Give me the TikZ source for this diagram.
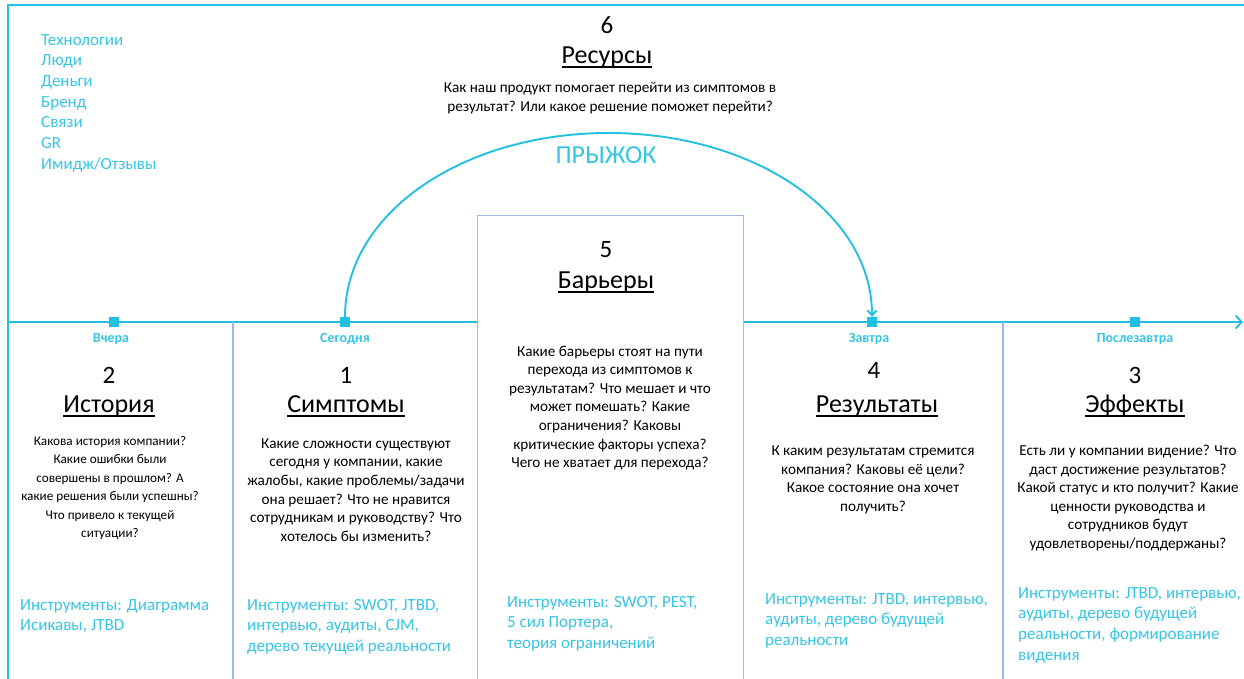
\documentclass[tikz,border=0pt]{standalone}
\usepackage{fontspec}
\setmainfont{Carlito}
\usetikzlibrary{arrows.meta}

\definecolor{cyanline}{HTML}{22C0E0}
\definecolor{cyantext}{HTML}{35C5E5}
\definecolor{sepline}{HTML}{9DB8EA}

% underline drawn as a rule below the baseline
\newcommand\ulword[1]{\setbox0\hbox{#1}\leavevmode\rlap{\vrule width\wd0 height -2.8pt depth 4.6pt}\box0}

\begin{document}
\begin{tikzpicture}[x=1pt,y=-1pt,
  frame/.style={draw=cyanline,line width=2.4pt},
  tline/.style={draw=cyanline,line width=1.9pt},
  sepl/.style={draw=sepline,line width=1.2pt},
  sq/.style={fill=cyanline,draw=none,minimum size=10pt,inner sep=0pt},
  when/.style={text=cyantext,font=\fontsize{14}{16}\selectfont\bfseries,inner sep=0pt},
  num/.style={font=\fontsize{25}{28}\selectfont,inner sep=0pt},
  ttl/.style={font=\fontsize{26}{29}\selectfont,inner sep=0pt},
  quest/.style={align=center,font=\fontsize{15.2}{18.6}\selectfont,inner sep=0pt},
  tools/.style={align=left,text=cyantext,font=\fontsize{17}{20.7}\selectfont,inner sep=0pt,anchor=north west},
]
\useasboundingbox (0,0) rectangle (1244,679);

% outer frame
\coordinate (fBL) at (8,685);
\coordinate (fTL) at (8,5);
\coordinate (fTR) at (1250,5);
\draw[frame] (fBL) -- (fTL) -- (fTR);

% resources list
\node[tools] (reslist) at (41,34) {Технологии\\Люди\\Деньги\\Бренд\\Связи\\GR\\Имидж/Отзывы};

% block 6
\node[num] (n6) at (607,25) {6};
\node[ttl] (t6) at (607,57) {\ulword{Ресурсы}};
\node[quest] (q6) at (610,98) {Как наш продукт помогает перейти из симптомов в\\результат? Или какое решение поможет перейти?};

% timeline
\coordinate (tlstart) at (8,322);
\coordinate (tlend) at (1243,322);
\draw[tline,-{Straight Barb[length=6pt,width=13pt,line width=1.9pt]}] (tlstart) -- (tlend);

% column separators
\coordinate (s1a) at (233,322);  \coordinate (s1b) at (233,685);
\coordinate (s4a) at (1003,322); \coordinate (s4b) at (1003,685);
\draw[sepl] (s1a) -- (s1b);
\draw[sepl] (s4a) -- (s4b);

% block 5 box (covers the timeline)
\node[draw=sepline,fill=white,line width=1.2pt,minimum width=266pt,minimum height=480pt,anchor=north west,inner sep=0pt] (box5) at (477,215) {};

% time markers
\node[sq] (m1) at (114,322) {};
\node[sq] (m2) at (345,322) {};
\node[sq] (m3) at (872,322) {};
\node[sq] (m4) at (1135,322) {};
\node[when] (w1) at (111,339) {Вчера};
\node[when] (w2) at (345,339) {Сегодня};
\node[when] (w3) at (869,339) {Завтра};
\node[when] (w4) at (1135,339) {Послезавтра};

% jump arc
\coordinate (apex) at (608.5,133);
\draw[draw=cyanline,line width=1.9pt,-{Straight Barb[length=5pt,width=9pt,line width=1.9pt]}]
  (m2.north) .. controls +(0,-104) and +(-145.5,0) .. (apex)
  .. controls +(145.5,0) and +(0,-104) .. (m3.north);
\node[text=cyantext,font=\fontsize{26}{29}\selectfont,inner sep=0pt] (jump) at (606,155) {ПРЫЖОК};

% column 2
\node[num] (n2) at (109,375) {2};
\node[ttl] (t2) at (109,406) {\ulword{История}};
\node[quest,font=\fontsize{13.2}{18.4}\selectfont] (q2) at (110,488) {Какова история компании?\\Какие ошибки были\\совершены в прошлом? А\\какие решения были успешны?\\Что привело к текущей\\ситуации?};
\node[tools] (i2) at (20,599) {Инструменты: Диаграмма\\Исикавы, JTBD};

% column 1
\node[num] (n1) at (346,375) {1};
\node[ttl] (t1) at (346,406) {\ulword{Симптомы}};
\node[quest] (q1) at (356,490) {Какие сложности существуют\\сегодня у компании, какие\\жалобы, какие проблемы/задачи\\она решает? Что не нравится\\сотрудникам и руководству? Что\\хотелось бы изменить?};
\node[tools] (i1) at (247,599) {Инструменты: SWOT, JTBD,\\интервью, аудиты, CJM,\\дерево текущей реальности};

% column 5
\node[num] (n5) at (606,250) {5};
\node[ttl] (t5) at (606,282) {\ulword{Барьеры}};
\node[quest] (q5) at (610,408) {Какие барьеры стоят на пути\\перехода из симптомов к\\результатам? Что мешает и что\\может помешать? Какие\\ограничения? Каковы\\критические факторы успеха?\\Чего не хватает для перехода?};
\node[tools] (i5) at (507,596) {Инструменты: SWOT, PEST,\\5 сил Портера,\\теория ограничений};

% column 4
\node[num] (n4) at (874,370) {4};
\node[ttl] (t4) at (877,406) {\ulword{Результаты}};
\node[quest] (q4) at (873,480) {К каким результатам стремится\\компания? Каковы её цели?\\Какое состояние она хочет\\получить?};
\node[tools] (i4) at (765,593) {Инструменты: JTBD, интервью,\\аудиты, дерево будущей\\реальности};

% column 3
\node[num] (n3) at (1135,375) {3};
\node[ttl] (t3) at (1135,406) {\ulword{Эффекты}};
\node[quest] (q3) at (1128,498) {Есть ли у компании видение? Что\\даст достижение результатов?\\Какой статус и кто получит? Какие\\ценности руководства и\\сотрудников будут\\удовлетворены/поддержаны?};
\node[tools] (i3) at (1018,587) {Инструменты: JTBD, интервью,\\аудиты, дерево будущей\\реальности, формирование\\видения};
\end{tikzpicture}
\end{document}
